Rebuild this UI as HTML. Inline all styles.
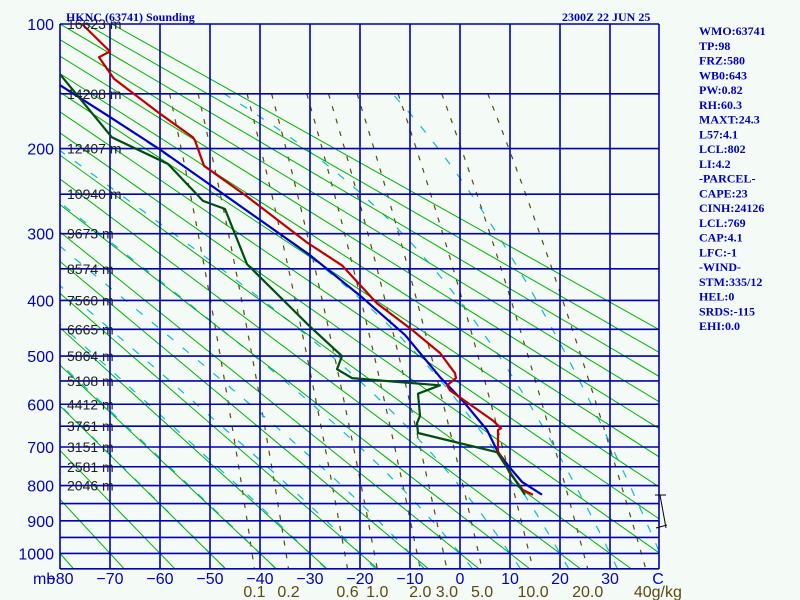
<!DOCTYPE html>
<html><head><meta charset="utf-8"><style>
body{margin:0;background:#f4faf6;}
svg{display:block;font-family:"Liberation Sans",sans-serif;}
.side{font-family:"Liberation Serif",serif;font-weight:bold;font-size:12px;fill:#0000c0;}
</style></head><body>
<svg id="chart" width="800" height="600" viewBox="0 0 800 600">
<rect x="0" y="0" width="800" height="600" fill="#f4faf6"/>
<defs><clipPath id="plotclip"><rect x="60" y="24" width="599" height="545"/></clipPath></defs>
<g id="mr" clip-path="url(#plotclip)"></g>
<g id="ma" clip-path="url(#plotclip)"></g>
<g id="da" clip-path="url(#plotclip)"></g>
<g id="grid"></g>
<g id="series" clip-path="url(#plotclip)"></g>
<g id="labels"></g>
<text x="66" y="21" class="side">HKNC (63741) Sounding</text>
<text x="562" y="21" class="side">2300Z 22 JUN 25</text>
<g id="panel"></g>
<g stroke="#000" stroke-width="1" fill="none">
<line x1="655" y1="495" x2="666" y2="495"/><line x1="660" y1="495" x2="666" y2="528"/><line x1="656" y1="528" x2="667" y2="525"/>
</g>
</svg>
<script>
const tempP=[100,118,122,138,167,189,192,218,251,312,345,405,448,494,534,544,559,570,637,655,659,711,767,812,825];
const tempT=[-75.6,-70,-72.2,-69.2,-60,-53.4,-53,-51.2,-43,-30.6,-23.6,-16.6,-10,-4,-1,-0.8,-2.6,-2,6.6,8.2,7.6,7.6,10,12.6,14.6];
const dewP=[134.5,189,216,258,268,343,445,500,526,544,552,559,577,626,643,666,713,764,805,825];
const dewT=[-80,-69.6,-58.4,-51.4,-47,-42.6,-30,-23.6,-24.6,-21.6,-12.6,-4,-8.4,-8,-8.6,-8.4,7.4,10,12,13];
const parcelP=[143,170,201,258,330,392,460,542,593,659,713,753,790,825];
const parcelT=[-80,-70,-60,-45.4,-30,-20,-11,-4,0.6,5.4,7.6,10,12.4,16.4];
const pressureTicks=[100,200,300,400,500,600,700,800,900,1000];
const heightLabels=["16623 m","14208 m","12407 m","10940 m","9673 m","8574 m","7560 m","6665 m","5864 m","5108 m","4412 m","3761 m","3151 m","2581 m","2046 m"];
const tempTicks=[-80,-70,-60,-50,-40,-30,-20,-10,0,10,20,30];
const mixRatios=[0.1,0.2,0.6,1.0,2.0,3.0,5.0,10.0,20.0,40];
const mixLabels=["0.1","0.2","0.6","1.0","2.0","3.0","5.0","10.0","20.0","40g/kg"];
const panelLines=["WMO:63741","TP:98","FRZ:580","WB0:643","PW:0.82","RH:60.3","MAXT:24.3","L57:4.1","LCL:802","LI:4.2","-PARCEL-","CAPE:23","CINH:24126","LCL:769","CAP:4.1","LFC:-1","-WIND-","STM:335/12","HEL:0","SRDS:-115","EHI:0.0"];

const NS="http://www.w3.org/2000/svg";
const K=0.286, P0=Math.pow(100,K);
function xT(t){return 60+5*(t+80);}
function yP(p){return 24+152.2*(Math.pow(p,K)-P0);}
function mk(tag,attrs,parent){const e=document.createElementNS(NS,tag);for(const k in attrs)e.setAttribute(k,attrs[k]);parent.appendChild(e);return e;}
const grid=document.getElementById('grid');
for(let p=100;p<=1050;p+=50){
  const l=mk('line',{x1:60,x2:659,y1:yP(p),y2:yP(p),stroke:'#0000b4','stroke-width':1.6},grid);
  
  
}
for(let t=-80;t<=40;t+=10){
  const x=Math.min(xT(t),659);
  const l=mk('line',{x1:x,x2:x,y1:24,y2:569,stroke:'#0000b4','stroke-width':1.6},grid);
  
  
}
const da=document.getElementById('da');
for(let t0=-80;t0<=120;t0+=10){
  const th=273.15+t0;
  const T=p=>th*Math.pow(p/1000,K)-273.15;
  const l=mk('line',{x1:xT(T(100)),y1:yP(100),x2:xT(T(1050)),y2:yP(1050),stroke:'#00b000','stroke-width':1},da);
  
  
}
function tdFromE(e){const a=Math.log(e/6.112);return 243.5*a/(17.67-a);}
const mr=document.getElementById('mr');
mixRatios.forEach(w=>{
  let pts=[];
  for(let p=150;p<=1050;p+=25){const e=w*p/(622+w);pts.push(xT(tdFromE(e)).toFixed(1)+','+yP(p).toFixed(1));}
  const l=mk('polyline',{points:pts.join(' '),fill:'none',stroke:'#5a4a10','stroke-width':1.2,'stroke-dasharray':'5 8'},mr);
  
  
});
function es(t){return 6.112*Math.exp(17.67*t/(t+243.5));}
function dTdp(T,p){const Tk=T+273.15;const rs=0.622*es(T)/(p-es(T));const L=2.5e6,Rd=287,cp=1004;
  return ((Rd*Tk+L*rs)/(cp+L*L*rs*0.622/(Rd*Tk*Tk)))/p;}
const ma=document.getElementById('ma');
for(let t0=-50;t0<=40;t0+=10){
  let pts=[];let T=t0,p=1000;
  while(p<1050){T+=dTdp(T,p)*5;p+=5;}
  for(p=1050;p>=150;p-=5){pts.push(xT(T).toFixed(1)+','+yP(p).toFixed(1));T-=dTdp(T,p)*5;}
  const l=mk('polyline',{points:pts.join(' '),fill:'none',stroke:'#10b8d0','stroke-width':1.2,'stroke-dasharray':'8 12'},ma);
  
  
}
const ser=document.getElementById('series');
function drawSeries(P,T,color,name){
  const pts=P.map((p,i)=>xT(T[i]).toFixed(1)+','+yP(p).toFixed(1)).join(' ');
  const l=mk('polyline',{points:pts,fill:'none',stroke:color,'stroke-width':2.2,'stroke-linejoin':'round'},ser);
  
  
}
drawSeries(parcelP,parcelT,'#0000c8','parcel-line');
drawSeries(tempP,tempT,'#c00000','temperature-line');
drawSeries(dewP,dewT,'#004d10','dewpoint-line');
const lab=document.getElementById('labels');
pressureTicks.forEach(p=>{
  const t=mk('text',{x:54,y:yP(p)+6,'text-anchor':'end','font-size':16,fill:'#0000c0'},lab);t.textContent=p;
  
  
});
heightLabels.forEach((h,i)=>{
  const p=100+50*i;
  const t=mk('text',{x:67,y:yP(p)+5,'font-size':14,fill:'#202020'},lab);t.textContent=h;
  
  
});
const mb=mk('text',{x:33,y:584,'font-size':16,fill:'#0000c0'},lab);mb.textContent='mb';


tempTicks.forEach(tv=>{
  const t=mk('text',{x:xT(tv),y:584,'text-anchor':'middle','font-size':16,fill:'#0000c0'},lab);t.textContent=tv<0?'\u2212'+(-tv):tv;
  
  
});
const cl=mk('text',{x:658,y:584,'text-anchor':'middle','font-size':16,fill:'#0000c0'},lab);cl.textContent='C';


mixRatios.forEach((w,i)=>{
  const x=xT(tdFromE(w*1050/(622+w)));
  const t=mk('text',{x:i==9?x-12:x,y:597,'text-anchor':i==9?'start':'middle','font-size':16,fill:'#5a4a10'},lab);t.textContent=mixLabels[i];
  
  
});
const panel=document.getElementById('panel');
panelLines.forEach((s,i)=>{
  const t=mk('text',{x:699,y:35+14.75*i,class:'side'},panel);t.textContent=s;
  
  
});
</script>
</body></html>
